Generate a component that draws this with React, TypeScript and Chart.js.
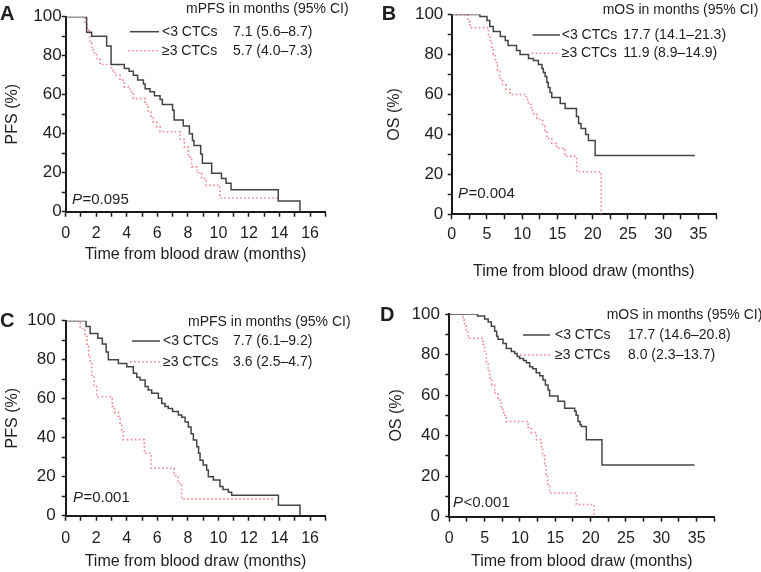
import React, { useEffect, useRef } from 'react';
import { Chart, registerables } from 'chart.js';

Chart.register(...registerables);

// ---------- DATA ----------
// Panel A: PFS, cut-off 3 CTCs
const aLowT = [0, 1.37, 1.7, 2.68, 2.97, 3.84, 4.15, 4.43, 4.71, 5.09, 5.2, 5.52, 5.81, 6.18, 6.33, 7.0, 7.1, 7.7, 8.1, 8.3, 8.4, 8.84, 8.95, 9.56, 10.2, 10.5, 10.83, 13.92, 15.34];
const aLowS = [100, 92, 90, 85, 75.5, 73.5, 72, 70, 67.5, 65.5, 63, 61.5, 59.5, 57.5, 55, 52, 47, 44, 40, 36.5, 34, 29.6, 24.8, 19.7, 17, 14.6, 11.2, 5.5, 0];
const aHighT = [0, 1.26, 1.4, 1.59, 1.7, 1.88, 2.03, 2.25, 3.0, 3.23, 3.56, 3.84, 4.21, 4.43, 5.2, 5.41, 5.59, 5.74, 5.96, 6.18, 7.5, 7.77, 8.03, 8.25, 8.58, 8.9, 9.2, 10.1, 14.0];
const aHighS = [100, 96, 93, 86.5, 83, 80.5, 78, 75.5, 72.5, 70, 67.5, 64, 61.5, 58, 55, 51.5, 49, 46, 43.5, 41, 37, 33, 28, 23, 20, 17, 13.5, 7, 7];

// Panel B: OS
const bLowT = [0, 4.0, 5.0, 5.4, 5.9, 6.9, 7.6, 8.0, 9.2, 9.7, 10.9, 11.6, 12.3, 12.8, 13.0, 13.25, 13.5, 13.7, 13.95, 14.2, 15.4, 16.1, 17.7, 18.0, 18.35, 19.0, 19.4, 20.35, 34.5];
const bLowS = [100, 99, 97, 94, 91.5, 89, 87, 84.5, 82, 80, 78, 77, 75, 73, 71, 69, 66, 63.5, 61, 58.5, 55.5, 53, 49, 45.5, 43, 40, 37, 29.5, 29.5];
const bHighT = [0, 2.3, 2.6, 5.2, 5.45, 5.7, 5.9, 6.2, 6.5, 6.8, 7.2, 7.7, 8.3, 10.6, 10.9, 11.3, 11.6, 12.1, 12.9, 13.2, 13.5, 14.2, 14.9, 16.07, 17.73, 21.2];
const bHighS = [100, 96.5, 93.5, 90, 87, 83, 80, 76, 72, 68, 65, 62.5, 60, 57.5, 55, 52, 50, 47.5, 45, 41.5, 38, 35.5, 33, 29, 21.3, 0];

// Panel C: PFS
const cLowT = [0, 1.33, 1.6, 2.1, 2.4, 2.65, 2.79, 3.45, 4.0, 4.43, 4.65, 4.87, 5.2, 5.4, 5.63, 6.07, 6.29, 6.5, 6.72, 7.0, 7.38, 7.6, 7.82, 8.03, 8.21, 8.36, 8.58, 8.7, 8.8, 9.0, 9.23, 9.34, 9.67, 10.1, 10.3, 10.65, 10.87, 13.93, 15.34];
const cLowS = [100, 97, 93.5, 91, 88, 84, 80, 78, 76.4, 73, 71, 69.6, 66.2, 64.5, 62.8, 60.2, 57.6, 56, 55, 53.5, 51.6, 50.5, 48, 45.5, 42, 38.8, 35.4, 32, 28.5, 26, 23.4, 20, 18.3, 15, 13.5, 12, 10.5, 5.3, 0];
const cHighT = [0, 0.95, 1.25, 1.4, 1.5, 1.6, 1.7, 1.85, 2.03, 3.05, 3.2, 3.45, 3.56, 3.67, 3.78, 5.15, 5.6, 7.1, 7.35, 7.6, 13.7];
const cHighS = [100, 96, 92, 88, 82, 78, 72, 67, 61, 56, 53, 51, 47.5, 44, 39, 32, 24.3, 20.5, 16.5, 8.5, 8.5];

// Panel D: OS
const dLowT = [0, 4.0, 5.0, 5.5, 5.95, 6.42, 6.7, 6.89, 7.6, 8.07, 8.78, 9.25, 9.6, 9.96, 10.5, 10.9, 11.37, 11.8, 12.3, 12.8, 13.26, 13.6, 13.97, 14.2, 15.38, 16.32, 17.74, 17.95, 18.21, 18.5, 18.68, 19.39, 21.6, 34.7];
const dLowS = [100, 99, 97.5, 96, 94, 91.5, 89, 87.5, 85.5, 83, 81.5, 80.5, 79, 78, 77, 76, 74, 73, 71, 69.5, 67.5, 65, 62.5, 59.5, 57, 53.5, 52, 50, 47, 45.5, 44.5, 38, 25.5, 25.5];
const dHighT = [0, 1.94, 2.17, 2.41, 2.65, 4.77, 5.0, 5.24, 5.5, 5.71, 6.0, 6.42, 6.89, 7.36, 7.7, 8.07, 11.14, 11.61, 12.32, 13.02, 13.2, 13.5, 13.7, 13.9, 14.2, 17.98, 20.5];
const dHighS = [100, 97, 94, 91, 88, 85, 81, 76.5, 72, 68.5, 65, 61, 57.5, 53, 50, 47, 44, 41.5, 38, 34, 30, 26, 21, 16, 11.7, 6, 0];

const groupLabels = ['<3 CTCs', '\u22653 CTCs'];
const aValues = ['7.1 (5.6\u20138.7)', '5.7 (4.0\u20137.3)'];
const bValues = ['17.7 (14.1\u201321.3)', '11.9 (8.9\u201314.9)'];
const cValues = ['7.7 (6.1\u20139.2)', '3.6 (2.5\u20134.7)'];
const dValues = ['17.7 (14.6\u201320.8)', '8.0 (2.3\u201313.7)'];
const pfsHeader = 'mPFS in months (95% CI)';
const osHeader = 'mOS in months (95% CI)';
const xTitle = 'Time from blood draw (months)';

// ---------- STYLE ----------
const FONT = '"Liberation Sans", Arial, Helvetica, sans-serif';
const TEXT = '#1e1e1e';
const AXIS = '#1a1a1a';
const BLACK = '#444444';
const RED = '#f2868b';
const RED_DASH = [1.6, 2.4];

const toPts = (t: number[], s: number[]) => t.map((x, i) => ({ x, y: s[i] }));

type PanelCfg = {
  left: number; top: number; width: number; height: number;
  padTop: number; padRight: number; yWidth: number; xHeight: number;
  xMax: number; xStep: number; xLabelEvery: number;
  xTickPad: number; yTickPad: number; xTitlePad: number; yTitlePad: number;
  yTitle: string;
  low: { x: number; y: number }[]; high: { x: number; y: number }[];
  letter: string; letterX: number; letterY: number;
  header: string; headerX: number; headerY: number;
  rowY: number[]; lineX1: number[]; lineX2: number; labelX: number; valueX: number; values: string[];
  pMain: string; pX: number; pY: number;
};

const panels: PanelCfg[] = [
  {
    left: 0, top: 0, width: 380, height: 285,
    padTop: 16.7, padRight: 54.7, yWidth: 65.7, xHeight: 73.3,
    xMax: 17, xStep: 1, xLabelEvery: 2,
    xTickPad: 7, yTickPad: 0, xTitlePad: 20.4, yTitlePad: 2.9,
    yTitle: 'PFS (%)', low: toPts(aLowT, aLowS), high: toPts(aHighT, aHighS),
    letter: 'A', letterX: 0, letterY: 14.5,
    header: pfsHeader, headerX: 186, headerY: 9,
    rowY: [31.7, 50.7], lineX1: [130, 128], lineX2: 159, labelX: 162, valueX: 233, values: aValues,
    pMain: '=0.095', pX: 72, pY: 200,
  },
  {
    left: 380, top: 0, width: 381, height: 285,
    padTop: 14.3, padRight: 45, yWidth: 71.7, xHeight: 70.7,
    xMax: 37.5, xStep: 2.5, xLabelEvery: 5,
    xTickPad: 6, yTickPad: 4.4, xTitlePad: 3.7, yTitlePad: 5.4,
    yTitle: 'OS (%)', low: toPts(bLowT, bLowS), high: toPts(bHighT, bHighS),
    letter: 'B', letterX: 1.7, letterY: 14.5,
    header: osHeader, headerX: 222.7, headerY: 10,
    rowY: [35, 53.3], lineX1: [152.7, 151.7], lineX2: 180, labelX: 181.7, valueX: 243.3, values: bValues,
    pMain: '=0.004', pX: 78, pY: 194.3,
  },
  {
    left: 0, top: 285, width: 380, height: 287,
    padTop: 35.7, padRight: 54.7, yWidth: 65.7, xHeight: 56.3,
    xMax: 17, xStep: 1, xLabelEvery: 2,
    xTickPad: 8, yTickPad: 6, xTitlePad: 0.7, yTitlePad: 3.4,
    yTitle: 'PFS (%)', low: toPts(cLowT, cLowS), high: toPts(cHighT, cHighS),
    letter: 'C', letterX: 0, letterY: 36,
    header: pfsHeader, headerX: 188, headerY: 36.7,
    rowY: [56, 76.7], lineX1: [132, 130], lineX2: 160, labelX: 163, valueX: 233, values: cValues,
    pMain: '=0.001', pX: 73, pY: 213.3,
  },
  {
    left: 380, top: 285, width: 381, height: 287,
    padTop: 29, padRight: 46.7, yWidth: 69.3, xHeight: 55.3,
    xMax: 37.5, xStep: 2.5, xLabelEvery: 5,
    xTickPad: 7, yTickPad: 5.3, xTitlePad: 0.7, yTitlePad: 7.1,
    yTitle: 'OS (%)', low: toPts(dLowT, dLowS), high: toPts(dHighT, dHighS),
    letter: 'D', letterX: 0, letterY: 30,
    header: osHeader, headerX: 226.7, headerY: 30,
    rowY: [50, 70], lineX1: [143, 140], lineX2: 170, labelX: 175, valueX: 248, values: dValues,
    pMain: '<0.001', pX: 73, pY: 218.3,
  },
];

function Panel({ cfg }: { cfg: PanelCfg }) {
  const ref = useRef<HTMLCanvasElement>(null);
  useEffect(() => {
    if (!ref.current) return;
    const annot = {
      id: 'kmAnnot',
      afterDraw(chart: any) {
        const ctx = chart.ctx as CanvasRenderingContext2D;
        ctx.save();
        ctx.fillStyle = TEXT;
        ctx.textBaseline = 'middle';
        ctx.textAlign = 'left';
        ctx.font = `bold 20px ${FONT}`;
        ctx.fillText(cfg.letter, cfg.letterX, cfg.letterY);
        ctx.font = `14px ${FONT}`;
        ctx.fillText(cfg.header, cfg.headerX, cfg.headerY);
        cfg.rowY.forEach((y, i) => {
          ctx.beginPath();
          ctx.strokeStyle = i === 0 ? BLACK : RED;
          ctx.lineWidth = 1.5;
          ctx.setLineDash(i === 0 ? [] : RED_DASH);
          ctx.moveTo(cfg.lineX1[i], y);
          ctx.lineTo(cfg.lineX2, y);
          ctx.stroke();
          ctx.setLineDash([]);
          ctx.fillStyle = TEXT;
          ctx.font = `14px ${FONT}`;
          ctx.fillText(groupLabels[i], cfg.labelX, y);
          ctx.fillText(cfg.values[i], cfg.valueX, y);
        });
        ctx.font = `italic 15px ${FONT}`;
        ctx.fillText('P', cfg.pX, cfg.pY);
        const w = ctx.measureText('P').width;
        ctx.font = `15px ${FONT}`;
        ctx.fillText(cfg.pMain, cfg.pX + w + 0.5, cfg.pY);
        ctx.restore();
      },
    };
    const tickFont = { family: FONT, size: 16 };
    const yTickFont = { family: FONT, size: 17 };
    const chart = new Chart(ref.current, {
      type: 'line',
      data: {
        datasets: [
          {
            data: cfg.low, borderColor: BLACK, borderWidth: 1.5, pointRadius: 0,
            stepped: 'before', fill: false, tension: 0,
          },
          {
            data: cfg.high, borderColor: RED, borderWidth: 1.6, borderDash: RED_DASH, pointRadius: 0,
            stepped: 'before', fill: false, tension: 0,
          },
        ],
      },
      options: {
        animation: false,
        responsive: false,
        events: [],
        layout: { padding: { left: 0, top: cfg.padTop, right: cfg.padRight, bottom: 0 } },
        plugins: { legend: { display: false }, tooltip: { enabled: false } },
        scales: {
          x: {
            type: 'linear', min: 0, max: cfg.xMax,
            afterFit: (s: any) => { s.height = cfg.xHeight; },
            ticks: {
              stepSize: cfg.xStep, autoSkip: false, maxRotation: 0, minRotation: 0,
              padding: cfg.xTickPad, color: TEXT, font: tickFont,
              callback: (v: any) => (Math.abs(Number(v) % cfg.xLabelEvery) < 1e-6 ? String(v) : ''),
            },
            grid: { display: true, drawOnChartArea: false, drawTicks: true, tickLength: 5, tickWidth: 1.5, tickColor: AXIS },
            border: { display: true, color: AXIS, width: 2 },
            title: { display: true, text: xTitle, color: TEXT, font: tickFont, padding: { top: 0, bottom: cfg.xTitlePad } },
          },
          y: {
            type: 'linear', min: 0, max: 100,
            afterFit: (s: any) => { s.width = cfg.yWidth; },
            ticks: {
              stepSize: 10, autoSkip: false, padding: cfg.yTickPad, color: TEXT, font: yTickFont,
              callback: (v: any) => (Number(v) % 20 === 0 ? String(v) : ''),
            },
            grid: { display: true, drawOnChartArea: false, drawTicks: true, tickLength: 4, tickWidth: 1.5, tickColor: AXIS },
            border: { display: true, color: AXIS, width: 2 },
            title: { display: true, text: cfg.yTitle, color: TEXT, font: tickFont, padding: { top: cfg.yTitlePad, bottom: 0 } },
          },
        },
      },
      plugins: [annot],
    } as any);
    return () => chart.destroy();
  }, []);
  return (
    <div style={{ position: 'absolute', left: cfg.left, top: cfg.top, width: cfg.width, height: cfg.height }}>
      <canvas ref={ref} width={cfg.width} height={cfg.height} style={{ display: 'block' }} />
    </div>
  );
}

export default function App() {
  return (
    <div style={{ position: 'absolute', left: 0, top: 0, width: 761, height: 572, background: '#ffffff', overflow: 'hidden' }}>
      {panels.map((p) => (
        <Panel key={p.letter} cfg={p} />
      ))}
    </div>
  );
}
